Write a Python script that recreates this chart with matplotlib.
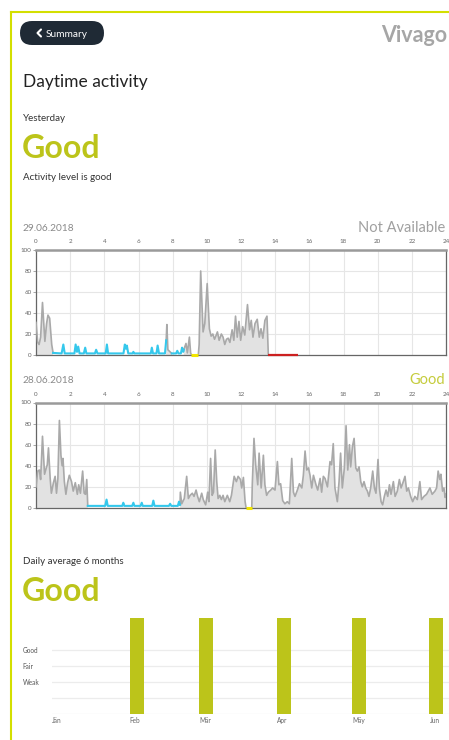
import numpy as np
import matplotlib
matplotlib.use("Agg")
import matplotlib.pyplot as plt
from matplotlib.patches import FancyBboxPatch

plt.rcParams['font.family'] = ['Lato', 'DejaVu Sans']

# --- activity 29.06.2018 (hours, activity level) ---
day1_t = [0.00, 0.10, 0.18, 0.27, 0.38, 0.52, 0.62, 0.70, 0.80, 0.92, 1.00,
          1.50, 1.60, 1.68, 2.25, 2.32, 2.40, 2.47, 2.55, 2.80, 2.88, 2.95,
          3.45, 3.52, 3.60, 4.08, 4.15, 4.22, 5.12, 5.20, 5.26, 5.32, 5.40,
          5.65, 5.70, 5.75, 6.72, 6.78, 6.85, 7.05, 7.12, 7.20, 7.55, 7.62,
          7.66, 7.72, 7.85, 7.95, 8.20, 8.27, 8.34, 8.48, 8.55, 8.62, 8.65,
          8.78, 8.86, 8.98, 9.05, 9.10, 9.50, 9.55, 9.64, 9.78, 9.88, 10.02,
          10.15, 10.25, 10.35, 10.45, 10.55, 10.62, 10.72, 10.85, 10.95, 11.05,
          11.15, 11.25, 11.35, 11.48, 11.58, 11.68, 11.78, 11.88, 11.98, 12.10,
          12.22, 12.38, 12.50, 12.60, 12.70, 12.82, 12.95, 13.07, 13.17, 13.28,
          13.40, 13.52, 13.60]
day1_v = [31, 12, 10, 17, 50, 13, 30, 38, 35, 10, 2,
          1.5, 10, 1.5, 1.5, 10, 3, 8, 1.5, 1.5, 7, 1.5,
          1.5, 5, 1.5, 1.5, 10, 1.5, 1.5, 10, 6, 9, 1.5,
          1.5, 3, 1.5, 1.5, 7, 1.5, 1.5, 9, 1.5, 1.5, 14,
          29, 5, 3, 1.5, 1.5, 4, 1.5, 1.5, 7, 3, 5,
          11, 2, 17, 2, 0, 0, 10, 80, 22, 30, 68,
          25, 18, 20, 15, 19, 22, 14, 20, 17, 10,
          15, 16, 12, 24, 14, 37, 17, 32, 14, 27,
          19, 48, 24, 33, 17, 30, 34, 17, 25, 16,
          33, 37, 0]
day1_rest = [(1.00, 7.62), (7.95, 8.65)]
day1_mark = [(9.10, 9.50)]
day1_missing = [(13.60, 15.35)]

# --- activity 28.06.2018 ---
day2_t = [0.00, 0.10, 0.20, 0.27, 0.38, 0.50, 0.60, 0.66, 0.73, 0.83, 0.90,
          1.02, 1.12, 1.20, 1.28, 1.37, 1.46, 1.53, 1.58, 1.66, 1.75, 1.85,
          1.95, 2.08, 2.18, 2.30, 2.42, 2.50, 2.60, 2.73, 2.82, 2.90, 2.97,
          3.03, 3.50, 4.05, 4.13, 4.20, 5.05, 5.11, 5.17, 5.63, 5.70, 5.76,
          6.12, 6.19, 6.25, 6.80, 6.87, 6.94, 7.78, 7.85, 7.92, 8.30, 8.37,
          8.43, 8.45, 8.53, 8.68, 8.82, 8.92, 9.02, 9.15, 9.25, 9.37, 9.46,
          9.56, 9.70, 9.79, 9.93, 10.05, 10.12, 10.22, 10.31, 10.39, 10.49,
          10.58, 10.66, 10.76, 10.85, 10.95, 11.05, 11.20, 11.34, 11.44, 11.60,
          11.73, 11.83, 11.97, 12.04, 12.14, 12.24, 12.30, 12.63, 12.66, 12.76,
          12.86, 12.98, 13.06, 13.18, 13.31, 13.40, 13.50, 13.60, 13.74, 13.85,
          13.99, 14.13, 14.22, 14.32, 14.44, 14.57, 14.71, 14.83, 14.97, 15.07,
          15.16, 15.30, 15.42, 15.56, 15.65, 15.75, 15.85, 15.95, 16.04, 16.14,
          16.24, 16.39, 16.49, 16.63, 16.72, 16.82, 16.92, 17.06, 17.21, 17.30,
          17.40, 17.50, 17.64, 17.74, 17.83, 17.93, 18.05, 18.15, 18.25, 18.35,
          18.42, 18.52, 18.62, 18.72, 18.81, 18.91, 19.01, 19.10, 19.20, 19.30,
          19.40, 19.49, 19.59, 19.71, 19.81, 19.90, 20.02, 20.10, 20.20, 20.29,
          20.39, 20.49, 20.59, 20.69, 20.78, 20.92, 21.02, 21.15, 21.27, 21.37,
          21.50, 21.60, 21.70, 21.80, 21.93, 22.05, 22.18, 22.32, 22.47, 22.57,
          22.71, 22.86, 23.06, 23.19, 23.35, 23.45, 23.54, 23.64, 23.70, 23.80,
          23.88, 23.95, 24.00]
day2_v = [20, 35, 36, 27, 68, 32, 38, 41, 57, 28, 14,
          24, 30, 14, 28, 83, 50, 40, 47, 25, 13, 24,
          31, 25, 16, 24, 13, 22, 14, 35, 14, 13, 27,
          2, 2, 2, 8, 2, 2, 5, 2, 2, 5, 2,
          2, 5, 2, 2, 7, 2, 2, 4, 2, 2, 6,
          3, 15, 4, 9, 30, 9, 12, 14, 11, 17, 11,
          6, 14, 8, 3, 15, 6, 47, 12, 15, 55,
          25, 9, 12, 8, 12, 6, 12, 6, 12, 30,
          25, 30, 27, 19, 29, 6, 0, 0, 22, 66,
          41, 22, 52, 19, 50, 22, 12, 15, 17, 19,
          17, 44, 22, 23, 7, 4, 6, 4, 47, 15,
          11, 17, 23, 19, 31, 54, 36, 38, 31, 19,
          31, 22, 17, 28, 15, 30, 28, 20, 44, 41,
          61, 19, 6, 25, 52, 19, 38, 78, 36, 60,
          39, 58, 66, 38, 35, 39, 25, 20, 25, 19,
          16, 11, 19, 35, 19, 14, 46, 19, 6, 3,
          11, 17, 11, 22, 13, 25, 11, 16, 27, 19,
          25, 30, 16, 19, 11, 6, 11, 8, 25, 8,
          11, 13, 19, 13, 16, 19, 35, 27, 32, 16,
          19, 10, 13]
day2_rest = [(3.03, 8.43)]
day2_mark = [(12.30, 12.63)]
day2_missing = []

hour_ticks = list(range(0, 25, 2))
level_ticks = list(range(0, 101, 20))

# --- daily average 6 months ---
month_labels = ['Jän', 'Feb', 'Mär', 'Apr', 'Mäy', 'Jun']
month_start = [0, 31, 59, 90, 120, 151]   # day of year
month_score = [0, 6, 6, 6, 6, 6]
score_ticks = [0, 1, 2, 3, 4]
score_labels = ['', '', 'Weak', 'Fair', 'Good']

LIME = '#bcc41a'
BORDER = '#d3df00'
LINE = '#a9a9a9'
FILL = '#e2e2e2'
CYAN = '#35c8ec'
YELLOW = '#f2e600'
RED = '#cc2020'

W, H = 449, 740
fig = plt.figure(figsize=(W / 100, H / 100), dpi=100)

# page layer in pixel coordinates
bg = fig.add_axes([0, 0, 1, 1])
bg.set_xlim(0, W)
bg.set_ylim(H, 0)
bg.axis('off')

bg.plot([11, W], [11.5, 11.5], color=BORDER, lw=1.5)
bg.plot([11, 11], [11.5, H], color=BORDER, lw=1.5)

bg.add_patch(FancyBboxPatch((20, 21), 84, 24, boxstyle="round,pad=0,rounding_size=12",
                            fc='#1f2a35', ec='none'))
bg.plot([41, 37.5, 41], [29.5, 33, 36.5], color='white', lw=1.5, solid_capstyle='round')
bg.text(46, 37.3, 'Summary', color='white', fontsize=7.3, va='baseline')
bg.text(447, 41.7, 'Vivago', color='#a6a6a6', fontsize=15.5, fontweight='bold',
        ha='right', va='baseline')

bg.text(23, 87.3, 'Daytime activity', color='#222222', fontsize=12.5, va='baseline')
bg.text(23, 120.7, 'Yesterday', color='#333333', fontsize=7, va='baseline')
bg.text(22, 158.3, 'Good', color=LIME, fontsize=23, fontweight='bold', va='baseline')
bg.text(23, 180, 'Activity level is good', color='#333333', fontsize=7, va='baseline')

bg.text(23, 230.7, '29.06.2018', color='#8a8a8a', fontsize=7.3, va='baseline')
bg.text(445, 231.7, 'Not Available', color='#a0a0a0', fontsize=10.5, ha='right', va='baseline')
bg.text(23, 383.3, '28.06.2018', color='#8a8a8a', fontsize=7.3, va='baseline')
bg.text(445, 384, 'Good', color='#c5cc3c', fontsize=10.5, ha='right', va='baseline')

bg.text(23, 564, 'Daily average 6 months', color='#333333', fontsize=7, va='baseline')
bg.text(22, 601, 'Good', color=LIME, fontsize=23, fontweight='bold', va='baseline')


def draw_day(ax, t, v, rest, marks, missing):
    t = np.array(t, float)
    v = np.array(v, float)
    in_rest = np.zeros(len(t), bool)
    inside = np.zeros(len(t), bool)
    for s, e in rest:
        in_rest |= (t >= s) & (t <= e)
        inside |= (t > s) & (t < e)
    gray = np.where(inside, np.nan, v)
    ax.fill_between(t, 0, gray, color=FILL, lw=0, zorder=2)
    ax.plot(t, gray, color=LINE, lw=1.2, zorder=3)
    ax.plot(t, np.where(in_rest, v, np.nan), color=CYAN, lw=1.5, zorder=4)
    for s, e in marks:
        ax.plot([s, e], [0, 0], color=YELLOW, lw=2.2, solid_capstyle='butt', clip_on=False, zorder=6)
    for s, e in missing:
        ax.plot([s, e], [0, 0], color=RED, lw=1.6, solid_capstyle='butt', clip_on=False, zorder=6)

    ax.set_xlim(0, 24)
    ax.set_ylim(0, 100)
    ax.xaxis.tick_top()
    ax.set_xticks(hour_ticks)
    ax.set_yticks(level_ticks)
    ax.tick_params(axis='x', length=0, pad=4, labelsize=4.5, labelcolor='#666666')
    ax.tick_params(axis='y', length=2, width=0.6, color='#999999', pad=1,
                   labelsize=4.5, labelcolor='#666666')
    ax.grid(color='#e6e6e6', lw=0.8, zorder=0)
    ax.set_axisbelow(True)
    for side in ['left', 'bottom', 'right']:
        ax.spines[side].set_color('#666666')
        ax.spines[side].set_linewidth(0.9)
    ax.spines['top'].set_color('#9a9a9a')
    ax.spines['top'].set_linewidth(1.8)


ax1 = fig.add_axes([36 / W, 1 - 355 / H, 410 / W, 105 / H])
draw_day(ax1, day1_t, day1_v, day1_rest, day1_mark, day1_missing)

ax2 = fig.add_axes([36 / W, 1 - 508 / H, 410 / W, 105.5 / H])
draw_day(ax2, day2_t, day2_v, day2_rest, day2_mark, day2_missing)

# monthly bars
ax3 = fig.add_axes([52 / W, 1 - 714 / H, (W - 52) / W, (714 - 617.7) / H])
ax3.bar(month_start, month_score, width=5.6, align='edge', color=LIME, zorder=3)
ax3.set_xlim(0, 158.8)
ax3.set_ylim(0, 6)
ax3.set_yticks(score_ticks, score_labels)
ax3.set_xticks(month_start, month_labels)
for lab in ax3.get_yticklabels():
    lab.set_ha('left')
for lab in ax3.get_xticklabels():
    lab.set_ha('left')
ax3.tick_params(axis='y', length=0, pad=21, labelsize=4.7, labelcolor='#555555')
ax3.tick_params(axis='x', length=0, pad=2.5, labelsize=4.7, labelcolor='#666666')
ax3.grid(axis='y', color='#ececec', lw=0.9, zorder=0)
ax3.set_axisbelow(True)
for side in ax3.spines:
    ax3.spines[side].set_visible(False)

fig.savefig('out.png', dpi=100)
